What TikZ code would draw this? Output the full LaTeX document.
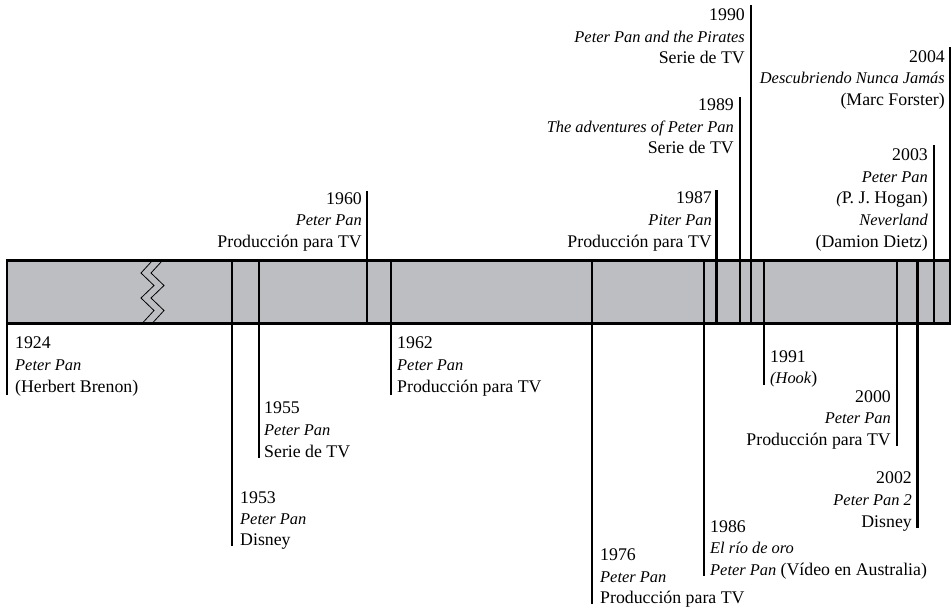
\documentclass[tikz,border=0pt]{standalone}
\usepackage{fontspec}
\setmainfont{Liberation Serif}
\definecolor{bandgray}{RGB}{189,190,193}
\newcommand\myit[1]{{\fontsize{16.4}{20}\selectfont\itshape #1}}
\begin{document}
\begin{tikzpicture}[x=1pt,y=-1pt,
  tick/.style={line width=2.4pt, black},
  zig/.style={line width=0.8pt, black},
  lbl/.style={inner sep=0pt, font=\fontsize{17.8}{21}\selectfont},
  lw/.style={lbl, anchor=base west},
  le/.style={lbl, anchor=base east}]
\useasboundingbox (0,0) rectangle (951,611);
% band
\fill[bandgray] (7,260.5) rectangle (950,323.5);
\draw[zig] (152,261) -- (141,273) -- (154,285.5) -- (141,298) -- (154,310.5) -- (143,322.5);
\draw[zig] (162,261) -- (151,273) -- (164,285.5) -- (151,298) -- (164,310.5) -- (153,322.5);
\draw[tick] (5.8,260.5) -- (951,260.5);
\draw[tick] (5.8,323.5) -- (951,323.5);
% ticks going down
\draw[tick] (7,260.5) -- (7,395);
\draw[tick] (232,260.5) -- (232,546);
\draw[tick] (259,260.5) -- (259,458);
\draw[tick] (391,260.5) -- (391,395);
\draw[tick] (592,260.5) -- (592,604);
\draw[tick] (704,260.5) -- (704,576);
\draw[tick] (764,260.5) -- (764,385);
\draw[tick] (897,260.5) -- (897,446);
\draw[tick] (917.5,260.5) -- (917.5,528);
% ticks going up
\draw[tick] (367,323.5) -- (367,191);
\draw[tick] (716.5,323.5) -- (716.5,190);
\draw[tick] (740,323.5) -- (740,97);
\draw[tick] (751,323.5) -- (751,5);
\draw[tick] (934,323.5) -- (934,145);
\draw[tick] (949.8,323.5) -- (949.8,47);
% labels below
\node[lw] (a1924) at (15,348) {1924};
\node[lw] (b1924) at (15,370) {\myit{Peter Pan}};
\node[lw] (c1924) at (15,392) {(Herbert Brenon)};
\node[lw] (a1955) at (264,413) {1955};
\node[lw] (b1955) at (264,435) {\myit{Peter Pan}};
\node[lw] (c1955) at (264,457) {Serie de TV};
\node[lw] (a1953) at (240,503) {1953};
\node[lw] (b1953) at (240,524) {\myit{Peter Pan}};
\node[lw] (c1953) at (240,545) {Disney};
\node[lw] (a1962) at (397,348) {1962};
\node[lw] (b1962) at (397,370) {\myit{Peter Pan}};
\node[lw] (c1962) at (397,392) {Producción para TV};
\node[lw] (a1976) at (600,560) {1976};
\node[lw] (b1976) at (600,582) {\myit{Peter Pan}};
\node[lw] (c1976) at (600,603) {Producción para TV};
\node[lw] (a1986) at (710,532) {1986};
\node[lw] (b1986) at (710,553) {\myit{El río de oro}};
\node[lw] (c1986) at (710,575) {\myit{Peter Pan} (Vídeo en Australia)};
\node[lw] (a1991) at (770,362) {1991};
\node[lw] (b1991) at (770,383) {\myit{(Hook\/})};
\node[le] (a2000) at (891,402) {2000};
\node[le] (b2000) at (891,423) {\myit{Peter Pan}};
\node[le] (c2000) at (891,445) {Producción para TV};
\node[le] (a2002) at (912,483) {2002};
\node[le] (b2002) at (912,505) {\myit{Peter Pan 2}};
\node[le] (c2002) at (912,527) {Disney};
% labels above
\node[le] (a1960) at (362,204) {1960};
\node[le] (b1960) at (362,225) {\myit{Peter Pan}};
\node[le] (c1960) at (362,247) {Producción para TV};
\node[le] (a1987) at (712,203) {1987};
\node[le] (b1987) at (712,225) {\myit{Piter Pan}};
\node[le] (c1987) at (712,247) {Producción para TV};
\node[le] (a1989) at (734,110) {1989};
\node[le] (b1989) at (734,132) {\myit{The adventures of Peter Pan}};
\node[le] (c1989) at (734,153) {Serie de TV};
\node[le] (a1990) at (745,20) {1990};
\node[le] (b1990) at (745,42) {\myit{Peter Pan and the Pirates}};
\node[le] (c1990) at (745,63) {Serie de TV};
\node[le] (a2004) at (945,62) {2004};
\node[le] (b2004) at (945,83) {\myit{Descubriendo Nunca Jamás}};
\node[le] (c2004) at (945,105) {(Marc Forster)};
\node[le] (a2003) at (928,160) {2003};
\node[le] (b2003) at (928,182) {\myit{Peter Pan}};
\node[le] (c2003) at (928,203) {\myit{(}P. J. Hogan)};
\node[le] (d2003) at (928,225) {\myit{Neverland}};
\node[le] (e2003) at (928,247) {(Damion Dietz)};
\end{tikzpicture}
\end{document}
